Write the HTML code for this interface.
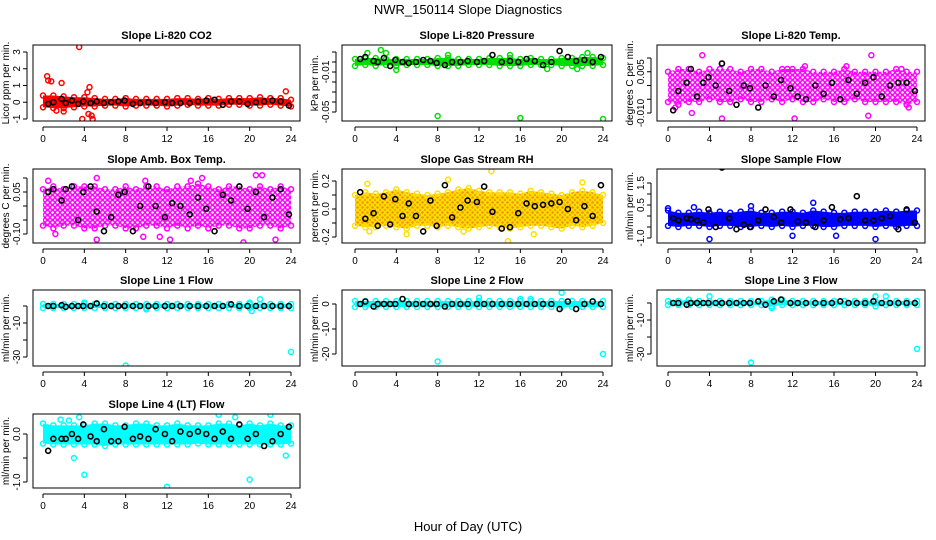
<!DOCTYPE html>
<html><head><meta charset="utf-8"><style>
body{margin:0;background:#fff;}
svg{display:block;font-family:"Liberation Sans",sans-serif;}
</style></head><body>
<svg id="chart" width="936" height="540" xmlns="http://www.w3.org/2000/svg">
<defs id="defs"></defs>
<text x="468" y="14" text-anchor="middle" font-size="13">NWR_150114  Slope Diagnostics</text>
<text x="468" y="531" text-anchor="middle" font-size="13">Hour of Day (UTC)</text>
</svg>
<script>
const blackHours=[0.5,1,1.8,2.2,2.8,3.4,3.9,4.6,5.2,5.9,6.6,7.3,7.9,8.7,9.4,10.2,10.9,11.8,12.5,13.3,14.2,15.0,15.8,16.6,17.4,18.2,19.0,19.8,20.6,21.4,22.2,23.0,23.8];
const bandHours=[0,1,2,3,4,5,6,7,8,9,10,11,12,13,14,15,16,17,18,19,20,21,22,23,24];
const xTicks=[0,4,8,12,16,20,24];

const co2Black=[-0.1,0,0.2,-0.05,0.1,-0.1,0.05,-0.05,0.05,-0.05,0,0.05,0.1,-0.1,-0.05,0,-0.05,0,-0.05,-0.05,-0.05,0.05,0.1,0.15,-0.15,0.05,0.05,-0.1,0,0.05,0.1,0.05,-0.2];
const co2Lo=[-0.3,-0.35,-0.35,-0.3,-0.25,-0.25,-0.2,-0.2,-0.25,-0.2,-0.2,-0.2,-0.25,-0.2,-0.15,-0.2,-0.2,-0.2,-0.15,-0.15,-0.2,-0.2,-0.15,-0.2,-0.25];
const co2Hi=[0.4,0.4,0.35,0.3,0.3,0.25,0.2,0.2,0.25,0.2,0.2,0.2,0.2,0.25,0.25,0.2,0.25,0.2,0.25,0.25,0.25,0.3,0.25,0.25,0.15];
const co2Out=[[0.4,1.55],[0.5,1.3],[0.8,1.25],[1.8,1.15],[3.5,3.3],[3.8,-1.0],[4.5,0.9],[4.7,-0.8],[4.8,-1.0],[4.3,0.6],[4.4,-0.7],[23.5,0.65],[1.3,-0.5],[2,-0.55]];

const presBlack=[0.003,0.005,0.001,0.0,0.004,-0.004,0.002,0.0,-0.001,0.0,0.002,0.001,-0.001,-0.003,0.0,0.0,0.001,0.0,0.001,0.007,0.0,0.001,0.0,0.003,0.001,-0.003,0.0,0.011,0.005,0.001,0.002,0.0,0.005];
const presLo=[-0.004,-0.003,-0.004,-0.003,-0.004,-0.003,-0.003,-0.003,-0.004,-0.004,-0.004,-0.003,-0.003,-0.003,-0.004,-0.004,-0.004,-0.003,-0.003,-0.003,-0.004,-0.004,-0.004,-0.004,-0.003];
const presHi=[0.003,0.004,0.004,0.003,0.003,0.003,0.003,0.003,0.004,0.004,0.003,0.003,0.003,0.004,0.004,0.004,0.003,0.004,0.003,0.003,0.004,0.004,0.005,0.005,0.004];
const presOut=[[8,-0.054],[16,-0.056],[24,-0.057],[2.5,0.012],[1.2,0.009],[4,-0.008],[18.6,-0.007],[21.5,-0.007],[3,0.009],[22.5,0.009],[15,0.007],[9,0.007]];

const ltBlack=[-0.009,-0.002,0.001,0.006,-0.004,0.001,0.003,0.0,0.008,-0.002,-0.007,0.0,-0.001,-0.008,0.0,-0.004,0.002,-0.001,-0.004,-0.005,0.0,-0.003,0.001,-0.005,0.002,-0.003,0.001,0.003,-0.004,0.0,0.001,0.001,-0.002];
const ltLo=[-0.006,-0.007,-0.006,-0.006,-0.005,-0.006,-0.006,-0.005,-0.006,-0.006,-0.005,-0.006,-0.005,-0.006,-0.006,-0.005,-0.006,-0.006,-0.005,-0.006,-0.006,-0.006,-0.006,-0.007,-0.006];
const ltHi=[0.005,0.006,0.006,0.005,0.006,0.006,0.006,0.005,0.006,0.006,0.005,0.006,0.006,0.006,0.005,0.005,0.005,0.006,0.005,0.005,0.005,0.005,0.006,0.005,0.005];
const ltOut=[[3.3,0.011],[5.2,0.008],[19.6,0.011],[5.2,-0.012],[12.2,-0.012],[19.3,-0.011],[0.7,-0.008],[2.3,-0.010],[23.2,-0.008],[13.2,0.007],[22.5,0.006],[11.5,0.006],[17.2,0.007]];

const abBlack=[0.05,0.06,0.02,0.06,0.07,-0.05,0.05,0.07,-0.02,-0.09,-0.04,0.04,0.05,-0.09,0.0,0.07,0.0,-0.04,0.01,0.0,-0.03,0.03,-0.01,-0.09,0.04,0.02,0.07,-0.01,0.05,-0.04,0.03,0.06,-0.03];
const abLo=[-0.07,-0.08,-0.07,-0.07,-0.08,-0.08,-0.07,-0.07,-0.08,-0.08,-0.07,-0.07,-0.08,-0.07,-0.08,-0.07,-0.08,-0.07,-0.07,-0.08,-0.08,-0.07,-0.07,-0.08,-0.07];
const abHi=[0.06,0.07,0.06,0.07,0.07,0.07,0.06,0.06,0.07,0.06,0.07,0.07,0.06,0.07,0.07,0.08,0.07,0.06,0.07,0.07,0.06,0.07,0.06,0.07,0.06];
const abOut=[[5.2,-0.12],[12.3,-0.12],[19.4,-0.13],[22.5,-0.12],[20.6,0.11],[21.2,0.11],[15.4,0.1],[5.2,0.1],[9.9,0.09],[14.3,0.09],[0.5,0.09],[1.2,-0.1],[9.7,-0.11],[11.3,-0.11]];

const rhBlack=[0.12,-0.07,-0.03,-0.12,0.09,-0.11,0.07,-0.05,0.04,-0.05,-0.16,0.06,-0.12,0.17,-0.06,0.01,0.06,0.05,0.16,-0.02,-0.14,-0.13,-0.03,0.04,0.02,0.03,0.04,0.05,0.0,-0.08,0.02,-0.05,0.17];
const rhLo=[-0.12,-0.13,-0.13,-0.12,-0.13,-0.14,-0.12,-0.12,-0.13,-0.12,-0.13,-0.14,-0.13,-0.12,-0.13,-0.14,-0.13,-0.12,-0.12,-0.13,-0.14,-0.12,-0.13,-0.12,-0.1];
const rhHi=[0.1,0.12,0.11,0.12,0.14,0.12,0.11,0.1,0.11,0.12,0.14,0.15,0.13,0.12,0.12,0.12,0.11,0.13,0.12,0.11,0.1,0.12,0.13,0.12,0.1];
const rhOut=[[13.2,0.27],[14.8,-0.23],[9,0.21],[1.2,0.18],[22,0.19],[17.3,-0.18],[5,-0.18],[1.4,-0.16],[10.5,-0.16]];

const sfBlack=[-0.1,-0.2,-0.1,-0.15,-0.2,-0.3,0.3,-0.5,2.2,-0.1,-0.6,-0.4,-0.5,-0.2,0.3,-0.05,-0.3,0.3,-0.25,-0.3,-0.5,-0.2,0.4,-0.15,-0.1,0.9,-0.2,-0.2,-0.1,0.0,-0.6,0.3,-0.3];
const sfLo=[-0.45,-0.5,-0.45,-0.45,-0.5,-0.45,-0.45,-0.5,-0.5,-0.45,-0.5,-0.45,-0.5,-0.45,-0.45,-0.5,-0.5,-0.45,-0.45,-0.45,-0.5,-0.45,-0.5,-0.45,-0.45];
const sfHi=[0.25,0.15,0.15,0.2,0.15,0.2,0.15,0.2,0.25,0.15,0.15,0.2,0.2,0.15,0.25,0.2,0.15,0.15,0.2,0.2,0.2,0.25,0.2,0.25,0.25];
const sfOut=[[4,-1.05],[20,-1.05],[14,0.6],[8,0.45],[2.5,0.4],[12,-0.9],[16.2,-0.9],[0,0.35]];

const l1Black=[0,0,0.5,-0.5,0,0,0,0,1.5,0,0,0,0,0,0,0,0,0,0,0,0,0,0,0,0,1,0,0,0,0,0,0,0];
const l1Lo=[-1.2,-1.2,-1.2,-1.2,-1.2,-1.2,-1.2,-1.2,-1.2,-1.2,-1.2,-1.2,-1.2,-1.2,-1.2,-1.2,-1.2,-1.2,-1.2,-1.2,-1.2,-1.2,-1.2,-1.2,-1.2];
const l1Hi=[1.2,1.2,1.2,1.2,1.2,1.2,1.2,1.2,1.2,1.2,1.2,1.2,1.2,1.2,1.2,1.2,1.2,1.2,1.2,1.2,1.2,1.2,1.2,1.2,1.2];
const l1Out=[[8,-35],[24,-27],[21,4],[20,2],[4,2],[20.2,-3],[10,-2]];

const l2Black=[0,1,-1,0,0,0,0,2,0,0,0,0,0,-1,0,0,0,0,0,0,0,0,0,0,0,0,0,-2,1,-2,0,1,0];
const l2Lo=[-1.2,-1.2,-1.2,-1.2,-1.2,-1.2,-1.2,-1.2,-1.2,-1.2,-1.2,-1.2,-1.2,-1.2,-1.2,-1.2,-1.2,-1.2,-1.2,-1.2,-1.2,-1.2,-1.2,-1.2,-1.2];
const l2Hi=[1.2,1.2,1.2,1.2,1.2,1.2,1.2,1.2,1.2,1.2,1.2,1.2,1.2,1.2,1.2,1.2,1.2,1.2,1.2,1.2,1.2,1.2,1.2,1.2,1.2];
const l2Out=[[8,-23],[24,-20],[20,4.5],[12,2.5],[16,2],[17,2]];

const l3Black=[0,0,-1,0,0,0,0,0,0,0,0,0,0,1,-1,1,2,0,0,0,0,0,0,1,0,0,0,1,0,0,0,0,0];
const l3Lo=[-1.2,-1.2,-1.2,-1.2,-1.2,-1.2,-1.2,-1.2,-1.2,-1.2,-2,-1.2,-1.2,-1.2,-1.2,-1.2,-1.2,-1.2,-1.2,-1.2,-2,-1.2,-1.2,-1.2,-1.2];
const l3Hi=[1.2,1.2,2,1.2,1.2,1.2,1.2,1.2,1.2,1.2,2,2,1.2,1.2,1.2,1.2,1.2,1.2,1.2,1.2,1.2,1.2,1.2,1.2,1.2];
const l3Out=[[8,-35],[24,-27],[4,4],[20,4],[21,4],[10,-3]];

const l4Black=[-0.35,-0.1,-0.1,-0.1,0.0,-0.1,0.2,-0.05,-0.15,0.1,-0.15,-0.15,0.15,-0.1,-0.05,-0.1,0.1,0.0,-0.15,0.05,0.0,0.05,0.0,-0.1,0.05,-0.1,0.2,-0.1,0.0,-0.25,-0.15,0.0,0.15];
const l4Lo=[-0.2,-0.22,-0.22,-0.22,-0.22,-0.22,-0.25,-0.22,-0.22,-0.22,-0.22,-0.22,-0.22,-0.22,-0.22,-0.2,-0.22,-0.22,-0.22,-0.22,-0.22,-0.22,-0.22,-0.22,-0.2];
const l4Hi=[0.22,0.18,0.18,0.18,0.18,0.22,0.22,0.18,0.18,0.22,0.22,0.18,0.18,0.22,0.18,0.18,0.18,0.22,0.22,0.18,0.22,0.18,0.22,0.18,0.18];
const l4Out=[[3,-0.5],[4,-0.85],[12,-1.1],[20,-0.95],[23.5,-0.45],[3.5,0.35],[17,0.4],[22,0.4],[1.7,0.3],[2.5,0.28],[18.6,0.35]];

const cols=[{l:33,r:300,h0:43,h24:291},{l:342,r:612,h0:355,h24:603},{l:657,r:925,h0:668,h24:917}];
const rows=[{t:45,b:121},{t:169,b:243},{t:290,b:366},{t:414,b:488}];

const panels=[
 {name:'co2',title:'Slope Li-820 CO2',ylab:'Licor ppm per min.',c:0,r:0,color:'#ff0000',mode:'solid',v1:3,y1:52,v2:-1,y2:119,ticks:[-1,0,1,2,3],labels:['-1','0','1','2','3'],black:co2Black,lo:co2Lo,hi:co2Hi,out:co2Out},
 {name:'pressure',title:'Slope Li-820 Pressure',ylab:'kPa per min.',c:1,r:0,color:'#00e000',mode:'solid',v1:0.01,y1:52,v2:-0.05,y2:112,ticks:[0.01,0,-0.01,-0.02,-0.03,-0.04,-0.05],labels:['','','-0.01','','','','-0.05'],black:presBlack,lo:presLo,hi:presHi,out:presOut},
 {name:'li820-temp',title:'Slope Li-820 Temp.',ylab:'degrees C per min.',c:2,r:0,color:'#ff00ff',mode:'sparse',v1:0.01,y1:58,v2:-0.01,y2:113,ticks:[0.01,0.005,0,-0.005,-0.01],labels:['','0.005','','','-0.010'],black:ltBlack,lo:ltLo,hi:ltHi,out:ltOut},
 {name:'amb-box-temp',title:'Slope Amb. Box Temp.',ylab:'degrees C per min.',c:0,r:1,color:'#ff00ff',mode:'sparse',v1:0.05,y1:192,v2:-0.1,y2:234,ticks:[0.1,0.05,0,-0.05,-0.1],labels:['','0.05','','','-0.10'],black:abBlack,lo:abLo,hi:abHi,out:abOut},
 {name:'gas-stream-rh',title:'Slope Gas Stream RH',ylab:'percent per min.',c:1,r:1,color:'#f09000',edge:'#ffe000',mode:'mixed',v1:0.2,y1:181,v2:-0.2,y2:237,ticks:[0.2,0.1,0,-0.1,-0.2],labels:['0.2','','0.0','','-0.2'],black:rhBlack,lo:rhLo,hi:rhHi,out:rhOut},
 {name:'sample-flow',title:'Slope Sample Flow',ylab:'ml/min per min.',c:2,r:1,color:'#0000ff',mode:'solid',v1:1.5,y1:183,v2:-1,y2:238,ticks:[1.5,1,0.5,0,-0.5,-1],labels:['1.5','','0.5','','','-1.0'],black:sfBlack,lo:sfLo,hi:sfHi,out:sfOut},
 {name:'line1-flow',title:'Slope Line 1 Flow',ylab:'ml/min per min.',c:0,r:2,color:'#00ffff',mode:'solid',v1:0,y1:306,v2:-30,y2:357,ticks:[0,-10,-20,-30],labels:['','-10','','-30'],black:l1Black,lo:l1Lo,hi:l1Hi,out:l1Out},
 {name:'line2-flow',title:'Slope Line 2 Flow',ylab:'ml/min per min.',c:1,r:2,color:'#00ffff',mode:'solid',v1:0,y1:304,v2:-20,y2:354,ticks:[0,-10,-20],labels:['0','-10','-20'],black:l2Black,lo:l2Lo,hi:l2Hi,out:l2Out},
 {name:'line3-flow',title:'Slope Line 3 Flow',ylab:'ml/min per min.',c:2,r:2,color:'#00ffff',mode:'solid',v1:0,y1:303,v2:-30,y2:354,ticks:[0,-10,-20,-30],labels:['','-10','','-30'],black:l3Black,lo:l3Lo,hi:l3Hi,out:l3Out},
 {name:'line4-flow',title:'Slope Line 4 (LT) Flow',ylab:'ml/min per min.',c:0,r:3,color:'#00ffff',mode:'solid',v1:0,y1:434,v2:-1,y2:482,ticks:[0,-0.5,-1],labels:['0.0','','-1.0'],black:l4Black,lo:l4Lo,hi:l4Hi,out:l4Out}
];

const svg=document.getElementById('chart');
const defs=document.getElementById('defs');
const NS='http://www.w3.org/2000/svg';
function mk(tag,attrs,parent){const e=document.createElementNS(NS,tag);for(const k in attrs)e.setAttribute(k,attrs[k]);parent.appendChild(e);return e;}

panels.forEach(p=>{
  const C=cols[p.c],R=rows[p.r];
  const xs=h=>C.h0+(h/24)*(C.h24-C.h0);
  const ys=v=>p.y1+(v-p.v1)*(p.y2-p.y1)/(p.v2-p.v1);
  const edge=p.edge||p.color;
  let fill=p.color;
  if(p.mode!=='solid'){
    const pid='pat-'+p.name;
    const sz=5;
    const pat=mk('pattern',{id:pid,width:sz,height:sz,patternUnits:'userSpaceOnUse'},defs);
    mk('rect',{x:0,y:0,width:sz,height:sz,fill:p.mode==='mixed'?p.color:'#fff'},pat);
    const sc=p.mode==='mixed'?edge:p.color;
    mk('circle',{cx:sz/2,cy:sz/2,r:2,fill:'none',stroke:sc,'stroke-width':1.4},pat);
    fill=`url(#${pid})`;
  }
  const g=mk('g',{},svg);
  
  
  const clipId='clip-'+p.name;
  const cp=mk('clipPath',{id:clipId},g);
  mk('rect',{x:C.l,y:R.t,width:C.r-C.l,height:R.b-R.t},cp);
  const t=mk('text',{x:(C.l+C.r)/2,y:R.t-6,'text-anchor':'middle','font-size':'11','font-weight':'bold'},g);
  t.textContent=p.title;
  
  
  const yl=mk('text',{transform:`translate(${C.l-24},${(R.t+R.b)/2}) rotate(-90)`,'text-anchor':'middle','font-size':'10'},g);
  yl.textContent=p.ylab;
  
  
  const dg=mk('g',{'clip-path':`url(#${clipId})`},g);
  
  
  let pts=bandHours.map((h,i)=>xs(h)+','+ys(p.hi[i]));
  pts=pts.concat(bandHours.map((h,i)=>xs(h)+','+ys(p.lo[i])).reverse());
  const band=mk('polygon',{points:pts.join(' '),fill:fill,stroke:'none'},dg);
  
  
  bandHours.forEach((h,i)=>{
    [p.lo[i],p.hi[i]].forEach(v=>{
      const c=mk('circle',{cx:xs(h),cy:ys(v),r:2.5,fill:'none',stroke:edge,'stroke-width':1.5},dg);
      
      
    });
  });
  p.out.forEach(o=>{
    const c=mk('circle',{cx:xs(o[0]),cy:ys(o[1]),r:2.5,fill:'none',stroke:edge,'stroke-width':1.5},dg);
    
    
  });
  p.black.forEach((v,i)=>{
    const c=mk('circle',{cx:xs(blackHours[i]),cy:ys(v),r:2.5,fill:'none',stroke:'#000','stroke-width':1.6},dg);
    
    
  });
  const box=mk('rect',{x:C.l,y:R.t,width:C.r-C.l,height:R.b-R.t,fill:'none',stroke:'#000','stroke-width':1},g);
  
  
  const ax=mk('g',{},g);
  
  
  const yA=R.b+6;
  mk('line',{x1:xs(0),x2:xs(24),y1:yA,y2:yA,stroke:'#000'},ax);
  xTicks.forEach(h=>{
    mk('line',{x1:xs(h),x2:xs(h),y1:yA,y2:yA+4,stroke:'#000'},ax);
    const tl=mk('text',{x:xs(h),y:yA+15,'text-anchor':'middle','font-size':'10'},ax);
    tl.textContent=h;
  });
  const ay=mk('g',{},g);
  
  
  const xA=C.l-6;
  const yt=p.ticks.map(ys);
  mk('line',{x1:xA,x2:xA,y1:Math.min(...yt),y2:Math.max(...yt),stroke:'#000'},ay);
  p.ticks.forEach((v,i)=>{
    mk('line',{x1:xA-4,x2:xA,y1:ys(v),y2:ys(v),stroke:'#000'},ay);
    if(p.labels[i]){
      const tl=mk('text',{transform:`translate(${xA-7},${ys(v)}) rotate(-90)`,'text-anchor':'middle','font-size':'10'},ay);
      tl.textContent=p.labels[i];
    }
  });
});
</script>
</body></html>
